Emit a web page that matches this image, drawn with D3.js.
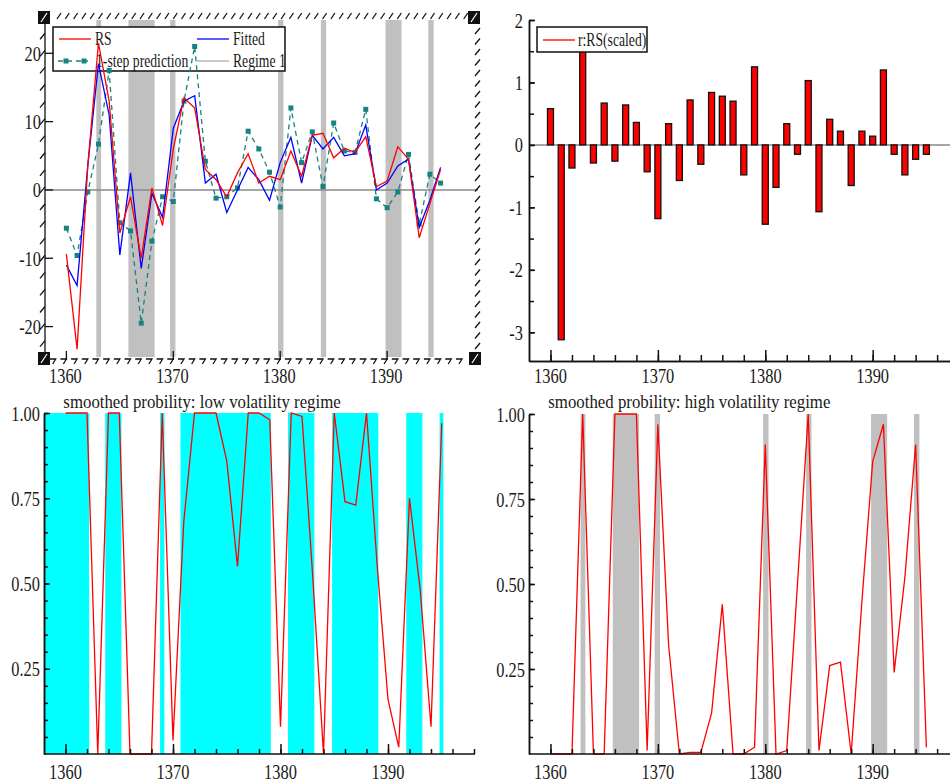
<!DOCTYPE html>
<html>
<head>
<meta charset="utf-8">
<script src="https://cdn.jsdelivr.net/npm/d3@7"></script>
<style>
body { margin: 0; background: #fff; }
text { font-family: "Liberation Serif", "DejaVu Serif", serif; fill: #1a1a1a; }
</style>
</head>
<body>
<script>
const years = [1360, 1361, 1362, 1363, 1364, 1365, 1366, 1367, 1368, 1369,
    1370, 1371, 1372, 1373, 1374, 1375, 1376, 1377, 1378, 1379,
    1380, 1381, 1382, 1383, 1384, 1385, 1386, 1387, 1388, 1389,
    1390, 1391, 1392, 1393, 1394, 1395]

const rs = [-9.4, -23.3, 3.5, 21.5, 13, -6.3, -1, -10, 0.3, -5.2,
    6, 13.5, 12, 3, 1.5, -1, 2.5, 5.3, 1, 2,
    1.5, 5.7, 2, 8, 8.3, 4.7, 6.1, 5.5, 7.8, 0.5,
    1.3, 6.3, 4.5, -7, -2, 3]
const fitted = [-11, -14, 3.5, 18.5, 11, -9.5, 2.5, -11.5, -0.5, -4,
    9, 13, 13.8, 1, 2.3, -3.3, 0, 3.3, 1.5, -1.5,
    4, 7.7, 1, 8, 6, 7.7, 5, 5.3, 9.5, 0,
    1, 3.5, 4.5, -5.5, -1.5, 3.3]
const prediction = [-5.6, -9.6, -0.3, 6.7, 17.5, -4.8, -6, -19.5, -7.5, -1,
    -1.7, 13, 21, 4.2, -1.2, -1, 0.3, 8.6, 6, 2.6,
    -2.5, 12, 4, 8.5, 0.5, 9.8, 5.7, 5.5, 11.8, -1.3,
    -2.6, -0.3, 5.2, -5, 2.3, 1]
const residual = [0.58, -3.12, -0.37, 1.51, -0.29, 0.67, -0.26, 0.64, 0.36, -0.43,
    -1.18, 0.34, -0.57, 0.72, -0.31, 0.84, 0.78, 0.7, -0.48, 1.25,
    -1.27, -0.68, 0.34, -0.15, 1.03, -1.07, 0.41, 0.22, -0.65, 0.22,
    0.14, 1.2, -0.15, -0.48, -0.23, -0.15]
const probLow = [1, 1, 1, 0, 1, 1, 0, 0, 0, 1,
    0.04, 0.68, 1, 1, 1, 0.86, 0.55, 1, 1, 0.98,
    0.08, 1, 0.99, 0.52, 0, 1, 0.74, 0.73, 1, 0.55,
    0.16, 0.02, 0.75, 0.48, 0.08, 0.97]
const probHigh = [0, 0, 0, 1, 0, 0, 1, 1, 1, 0.01,
    0.97, 0.32, 0, 0.005, 0.005, 0.12, 0.44, 0, 0, 0.02,
    0.91, 0, 0.01, 0.5, 1, 0.01, 0.26, 0.27, 0, 0.45,
    0.86, 0.97, 0.24, 0.52, 0.91, 0.02]

// shaded periods (start, end) in years
const regimeHigh = [[1362.8, 1363.25], [1365.8, 1368.25], [1369.7, 1370.2], [1379.8, 1380.3],
    [1383.8, 1384.3], [1389.85, 1391.35], [1393.85, 1394.35]]
const regimeLow = [[1358, 1362.2], [1363.7, 1365.2], [1368.8, 1369.2], [1370.7, 1379.1],
    [1380.7, 1383.15], [1384.8, 1389.1], [1391.7, 1393.2], [1394.8, 1395.15]]

const xLabels = [1360, 1370, 1380, 1390]
const yLabelsTL = [-20, -10, 0, 10, 20]
const yLabelsTR = [-3, -2, -1, 0, 1, 2]
const probLabels = [0.25, 0.5, 0.75, 1]

const red = '#ff0000', blue = '#0000ff', teal = '#178282', grey = '#c0c0c0'

const svg = d3.select('body').append('svg')
    .attr('width', 950).attr('height', 783)
svg.append('rect').attr('width', 950).attr('height', 783).attr('fill', '#fff')

// squeezed serif text like the original print
function label(g, x, y, s, anchor, size, sx) {
    g.append('text')
        .attr('transform', `translate(${x},${y}) scale(${sx || 0.78},1)`)
        .attr('text-anchor', anchor)
        .attr('font-size', size)
        .text(s)
}

const byYear = (x, y) => d3.line().x((d, i) => x(years[i])).y(d => y(d))

// ---------- top left: RS, fitted, prediction ----------
const x1 = d3.scaleLinear().domain([1358, 1398.5]).range([45, 478])
const y1 = d3.scaleLinear().domain([-24.6, 25.9]).range([358, 13])
const tl = svg.append('g')

tl.selectAll('rect.band').data(regimeHigh).join('rect')
    .attr('x', d => x1(d[0])).attr('width', d => x1(d[1]) - x1(d[0]))
    .attr('y', 20).attr('height', 337).attr('fill', grey)

tl.append('line')
    .attr('x1', 45).attr('x2', 478).attr('y1', y1(0)).attr('y2', y1(0))
    .attr('stroke', '#8a8a8a').attr('stroke-width', 1.6)

// legend (under the series lines, as in the original)
const lg = tl.append('g')
lg.append('rect').attr('x', 53).attr('y', 27).attr('width', 232).attr('height', 44)
    .attr('fill', '#fff').attr('stroke', '#111').attr('stroke-width', 1.5)
lg.append('line').attr('x1', 59).attr('x2', 91).attr('y1', 39).attr('y2', 39).attr('stroke', red).attr('stroke-width', 1.3)
lg.append('line').attr('x1', 197).attr('x2', 229).attr('y1', 39).attr('y2', 39).attr('stroke', blue).attr('stroke-width', 1.3)
lg.append('line').attr('x1', 58).attr('x2', 88).attr('y1', 61).attr('y2', 61).attr('stroke', teal).attr('stroke-width', 1.3).attr('stroke-dasharray', '5,4')
;[66, 84].forEach(x => lg.append('rect').attr('x', x - 2.5).attr('y', 58.5).attr('width', 5).attr('height', 5).attr('fill', teal))
lg.append('line').attr('x1', 197).attr('x2', 229).attr('y1', 61).attr('y2', 61).attr('stroke', '#c8c8c8').attr('stroke-width', 2)
label(lg, 95, 45, 'RS', 'start', 18, 0.76)
label(lg, 233, 45, 'Fitted', 'start', 18, 0.76)
label(lg, 96, 67, '1-step prediction', 'start', 18, 0.76)
label(lg, 233, 67, 'Regime 1', 'start', 18, 0.76)

tl.append('path').attr('d', byYear(x1, y1)(prediction))
    .attr('fill', 'none').attr('stroke', teal).attr('stroke-width', 1.3)
    .attr('stroke-dasharray', '5,4')
tl.selectAll('rect.mk').data(prediction).join('rect')
    .attr('x', (d, i) => x1(years[i]) - 2.5).attr('y', d => y1(d) - 2.5)
    .attr('width', 5).attr('height', 5).attr('fill', teal)
tl.append('path').attr('d', byYear(x1, y1)(fitted))
    .attr('fill', 'none').attr('stroke', blue).attr('stroke-width', 1.3)
tl.append('path').attr('d', byYear(x1, y1)(rs))
    .attr('fill', 'none').attr('stroke', red).attr('stroke-width', 1.3)

// frame decorations
const deco = tl.append('g').attr('stroke', '#111').attr('stroke-width', 1.3).attr('fill', 'none')
deco.append('line').attr('x1', 45).attr('x2', 45).attr('y1', 20).attr('y2', 357)
d3.range(57, 468, 8.3).forEach(x => deco.append('path').attr('d', `M${x},19L${x + 4},13`))
d3.range(30, 352, 10.5).forEach(y => deco.append('path').attr('d', `M475,${y + 4}L480,${y - 2}`))
d3.range(-22.5, 25, 2.5).forEach(v => deco.append('path').attr('d', `M40,${y1(v) + 3}L45,${y1(v) - 3}`))
yLabelsTL.forEach(v => deco.append('path').attr('d', `M45,${y1(v)}H53`))
d3.range(1359, 1398, 1).forEach(yr => {
    const x = x1(yr)
    deco.append('path').attr('d', `M${x - 6},359H${x}L${x - 3},364`)
})
xLabels.forEach(yr => deco.append('path').attr('d', `M${x1(yr)},351V360`))
;[[38, 11], [468, 11], [38, 352], [469, 352]].forEach(([x, y]) => {
    tl.append('rect').attr('x', x).attr('y', y).attr('width', 12).attr('height', 13).attr('fill', '#111')
    tl.append('path').attr('d', `M${x + 3},${y + 11}L${x + 9},${y + 2}`).attr('stroke', '#fff').attr('stroke-width', 1.2)
})

yLabelsTL.forEach(v => label(tl, 41, y1(v) + 7.5, v, 'end', 21))
xLabels.forEach(v => label(tl, x1(v) - 1, 383, v, 'middle', 21))

// ---------- top right: scaled residuals ----------
const x2 = d3.scaleLinear().domain([1358, 1397.2]).range([529, 950])
const y2 = d3.scaleLinear().domain([-3.46, 2]).range([361, 20])
const tr = svg.append('g')

tr.append('line')
    .attr('x1', 529).attr('x2', 950).attr('y1', y2(0)).attr('y2', y2(0))
    .attr('stroke', '#8a8a8a').attr('stroke-width', 1.5)
tr.selectAll('rect.bar').data(residual).join('rect')
    .attr('x', (d, i) => x2(years[i]) - 3).attr('width', 6)
    .attr('y', d => y2(Math.max(0, d))).attr('height', d => Math.abs(y2(d) - y2(0)))
    .attr('fill', red).attr('stroke', '#111').attr('stroke-width', 1.3)

tr.append('g').attr('transform', 'translate(529,0)')
    .call(d3.axisLeft(y2).tickValues(d3.range(-3, 2.01, 0.5)).tickSize(-5).tickSizeOuter(0).tickFormat(''))
tr.append('g').attr('transform', 'translate(529,0)')
    .call(d3.axisLeft(y2).tickValues(yLabelsTR).tickSize(-6).tickSizeOuter(0).tickFormat(''))
tr.append('g').attr('transform', 'translate(0,361)')
    .call(d3.axisBottom(x2).tickValues(d3.range(1360, 1397, 2)).tickSize(-6).tickSizeOuter(0).tickFormat(''))
tr.append('g').attr('transform', 'translate(0,361)')
    .call(d3.axisBottom(x2).tickValues(xLabels).tickSize(-11).tickSizeOuter(0).tickFormat(''))
yLabelsTR.forEach(v => label(tr, 523, y2(v) + 7.5, v, 'end', 21))
xLabels.forEach(v => label(tr, x2(v), 383, v, 'middle', 21))

const lg2 = tr.append('g')
lg2.append('rect').attr('x', 537).attr('y', 27).attr('width', 110).attr('height', 25)
    .attr('fill', '#fff').attr('stroke', '#111').attr('stroke-width', 1.5)
lg2.append('line').attr('x1', 543).attr('x2', 575).attr('y1', 40).attr('y2', 40).attr('stroke', red).attr('stroke-width', 1.3)
label(lg2, 578, 46, 'r:RS(scaled)', 'start', 18, 0.76)

// ---------- bottom: smoothed probabilities ----------
function probPanel(x, y, left, right, probs, bands, bandColor, title) {
    const g = svg.append('g')
    g.selectAll('rect.band').data(bands).join('rect')
        .attr('x', d => x(d[0])).attr('width', d => x(d[1]) - x(d[0]))
        .attr('y', y(1)).attr('height', y(0) - y(1)).attr('fill', bandColor)
    g.append('path').attr('d', byYear(x, y)(probs))
        .attr('fill', 'none').attr('stroke', red).attr('stroke-width', 1.3)
    g.append('g').attr('transform', `translate(${left},0)`)
        .call(d3.axisLeft(y).tickValues(d3.range(0.05, 1.001, 0.05)).tickSize(-4).tickSizeOuter(0).tickFormat(''))
    g.append('g').attr('transform', `translate(${left},0)`)
        .call(d3.axisLeft(y).tickValues(probLabels).tickSize(-6).tickSizeOuter(0).tickFormat(''))
    g.append('g').attr('transform', `translate(0,${y(0)})`)
        .call(d3.axisBottom(x).tickValues(d3.range(1360, 1399, 2)).tickSize(-5).tickSizeOuter(0).tickFormat(''))
        .call(a => a.select('.domain').attr('d', `M${left},0H${right}`))
    g.append('g').attr('transform', `translate(0,${y(0)})`)
        .call(d3.axisBottom(x).tickValues(xLabels).tickSize(-10).tickSizeOuter(0).tickFormat(''))
        .call(a => a.select('.domain').remove())
    probLabels.forEach(v => label(g, left - 4, y(v) + 7.5, d3.format('.2f')(v), 'end', 21))
    xLabels.forEach(v => label(g, x(v), 779, v, 'middle', 21))
    label(g, x(1359.8), 408, title, 'start', 19, 0.885)
    return g
}

const x3 = d3.scaleLinear().domain([1358, 1398]).range([44, 474])
const y3 = d3.scaleLinear().domain([0, 1]).range([754, 413])
probPanel(x3, y3, 44, 475, probLow, regimeLow, '#00ffff', 'smoothed probility: low volatility regime')

const x4 = d3.scaleLinear().domain([1358, 1397.2]).range([529, 950])
const y4 = d3.scaleLinear().domain([0, 1]).range([754, 414])
probPanel(x4, y4, 529, 950, probHigh, regimeHigh, grey, 'smoothed probility: high volatility regime')

svg.selectAll('.tick line, .domain').attr('stroke', '#111').attr('stroke-width', 1.5)
</script>
</body>
</html>
